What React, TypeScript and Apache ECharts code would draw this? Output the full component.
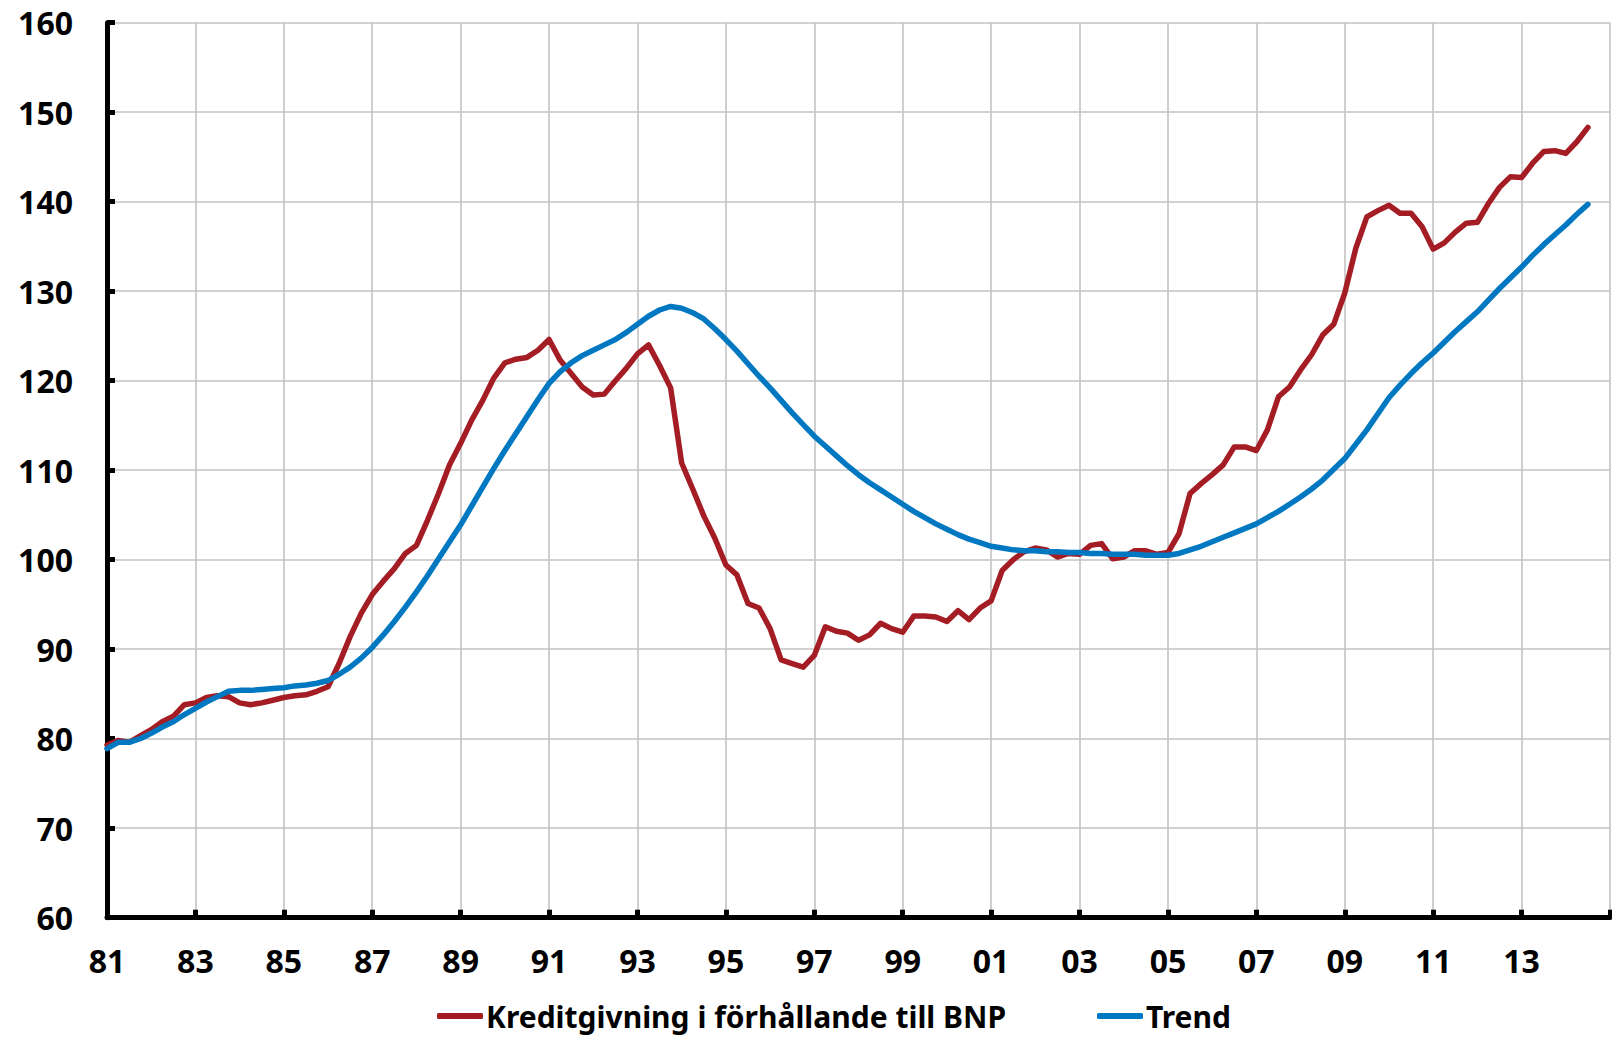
import React, { useEffect, useRef } from 'react';
import * as echarts from 'echarts';

const START_YEAR = 1981;
const SERIES_CREDIT = 'Kreditgivning i förhållande till BNP';
const SERIES_TREND = 'Trend';

// Quarterly values, 1981Q1 .. 2014Q3
const credit = [
  79.3, 79.8, 79.6, 80.3, 81.0, 81.9, 82.5, 83.8, 84.0, 84.6,
  84.8, 84.7, 84.0, 83.8, 84.0, 84.3, 84.6, 84.8, 84.9, 85.3,
  85.8, 88.4, 91.4, 94.0, 96.1, 97.6, 99.0, 100.7, 101.6, 104.4,
  107.4, 110.6, 113.0, 115.6, 117.8, 120.3, 122.0, 122.4, 122.6, 123.4,
  124.6, 122.3, 120.8, 119.3, 118.4, 118.5, 120.0, 121.4, 123.0, 124.0,
  121.7, 119.2, 110.8, 107.9, 104.9, 102.4, 99.4, 98.3, 95.1, 94.6,
  92.3, 88.8, 88.4, 88.0, 89.3, 92.5, 92.0, 91.8, 91.0, 91.6,
  92.9, 92.3, 91.9, 93.7, 93.7, 93.6, 93.1, 94.3, 93.3, 94.6,
  95.4, 98.8, 100.0, 100.9, 101.3, 101.1, 100.3, 100.7, 100.6, 101.6,
  101.8, 100.1, 100.3, 101.0, 101.0, 100.6, 100.8, 102.9, 107.4, 108.5,
  109.5, 110.6, 112.6, 112.6, 112.2, 114.5, 118.2, 119.3, 121.2, 122.9,
  125.1, 126.3, 129.8, 134.8, 138.3, 139.0, 139.6, 138.7, 138.7, 137.2,
  134.7, 135.4, 136.6, 137.6, 137.7, 139.8, 141.6, 142.8, 142.7, 144.3,
  145.6, 145.7, 145.4, 146.7, 148.3,
];

const trend = [
  78.9, 79.6, 79.6, 80.0, 80.6, 81.3, 81.9, 82.7, 83.4, 84.1,
  84.7, 85.3, 85.4, 85.4, 85.5, 85.6, 85.7, 85.9, 86.0, 86.2,
  86.5, 87.2, 88.0, 89.0, 90.2, 91.6, 93.1, 94.7, 96.4, 98.2,
  100.1, 102.0, 103.9, 106.0, 108.1, 110.2, 112.2, 114.1, 116.0, 117.9,
  119.7, 121.0, 122.0, 122.8, 123.4, 124.0, 124.6, 125.4, 126.3, 127.2,
  127.9, 128.3, 128.1, 127.6, 126.9, 125.8, 124.6, 123.3, 121.9, 120.5,
  119.2, 117.8, 116.4, 115.1, 113.8, 112.7, 111.6, 110.5, 109.5, 108.6,
  107.8, 107.0, 106.2, 105.4, 104.7, 104.0, 103.4, 102.8, 102.3, 101.9,
  101.5, 101.3, 101.1, 101.0, 101.0, 100.9, 100.9, 100.8, 100.8, 100.7,
  100.7, 100.6, 100.6, 100.6, 100.5, 100.5, 100.5, 100.7, 101.1, 101.5,
  102.0, 102.5, 103.0, 103.5, 104.0, 104.7, 105.4, 106.2, 107.0, 107.9,
  108.9, 110.1, 111.3, 112.9, 114.5, 116.3, 118.1, 119.5, 120.8, 122.0,
  123.1, 124.3, 125.5, 126.6, 127.7, 129.0, 130.3, 131.5, 132.7, 134.0,
  135.2, 136.3, 137.4, 138.6, 139.7,
];

const xTickLabels = ['81', '83', '85', '87', '89', '91', '93', '95', '97', '99', '01', '03', '05', '07', '09', '11', '13'];
const yMin = 60;
const yMax = 160;
const yStep = 10;
const xMin = 1981;
const xMax = 2015;
const xStep = 2;

const RED = '#A51D24';
const BLUE = '#0078C1';
const FONT = "'Noto Sans', sans-serif";

export default function App() {
  const ref = useRef<HTMLDivElement>(null);
  useEffect(() => {
    document.body.style.margin = '0';
    const chart = echarts.init(ref.current!, null, { renderer: 'svg' });
    const toPairs = (arr: number[]) => arr.map((v, i) => [START_YEAR + i / 4, v]);
    const legendCommon = {
      top: 1001,
      icon: 'roundRect',
      itemWidth: 46,
      itemHeight: 6,
      itemGap: 0,
      padding: 0,
      textStyle: { fontFamily: FONT, fontWeight: 'bold', fontSize: 30, color: '#000', padding: [0, 0, 0, -2] },
    };
    chart.setOption({
      animation: false,
      backgroundColor: '#fff',
      grid: { left: 107, right: 2, top: 22.7, bottom: 119.3, containLabel: false, outerBoundsMode: 'none' },
      legend: [
        { ...legendCommon, left: 437, data: [SERIES_CREDIT] },
        { ...legendCommon, left: 1097, data: [SERIES_TREND] },
      ],
      xAxis: {
        type: 'value',
        min: xMin,
        max: xMax,
        interval: xStep,
        axisLine: { show: true, lineStyle: { color: '#000', width: 5 } },
        axisTick: { show: true, inside: true, length: 8, lineStyle: { color: '#000', width: 5 } },
        axisLabel: {
          margin: 27,
          fontFamily: FONT,
          fontWeight: 'bold',
          fontSize: 32,
          color: '#000',
          formatter: (v: number) => {
            const idx = Math.round((v - xMin) / xStep);
            return xTickLabels[idx] ?? '';
          },
        },
        splitLine: { show: true, lineStyle: { color: '#c3c3c3', width: 1.6 } },
      },
      yAxis: {
        type: 'value',
        min: yMin,
        max: yMax,
        interval: yStep,
        axisLine: { show: true, lineStyle: { color: '#000', width: 5 } },
        axisTick: { show: true, inside: true, length: 8, lineStyle: { color: '#000', width: 5 } },
        axisLabel: { margin: 34, fontFamily: FONT, fontWeight: 'bold', fontSize: 32, color: '#000' },
        splitLine: { show: true, lineStyle: { color: '#c3c3c3', width: 1.6 } },
      },
      series: [
        {
          name: SERIES_CREDIT,
          type: 'line',
          data: toPairs(credit),
          showSymbol: false,
          symbol: 'none',
          color: RED,
          lineStyle: { color: RED, width: 5.5, cap: 'round', join: 'round' },
          z: 2,
        },
        {
          name: SERIES_TREND,
          type: 'line',
          data: toPairs(trend),
          showSymbol: false,
          symbol: 'none',
          color: BLUE,
          lineStyle: { color: BLUE, width: 5.5, cap: 'round', join: 'round' },
          z: 3,
        },
      ],
    });
    return () => chart.dispose();
  }, []);
  return <div ref={ref} style={{ width: 1612, height: 1037 }} />;
}
